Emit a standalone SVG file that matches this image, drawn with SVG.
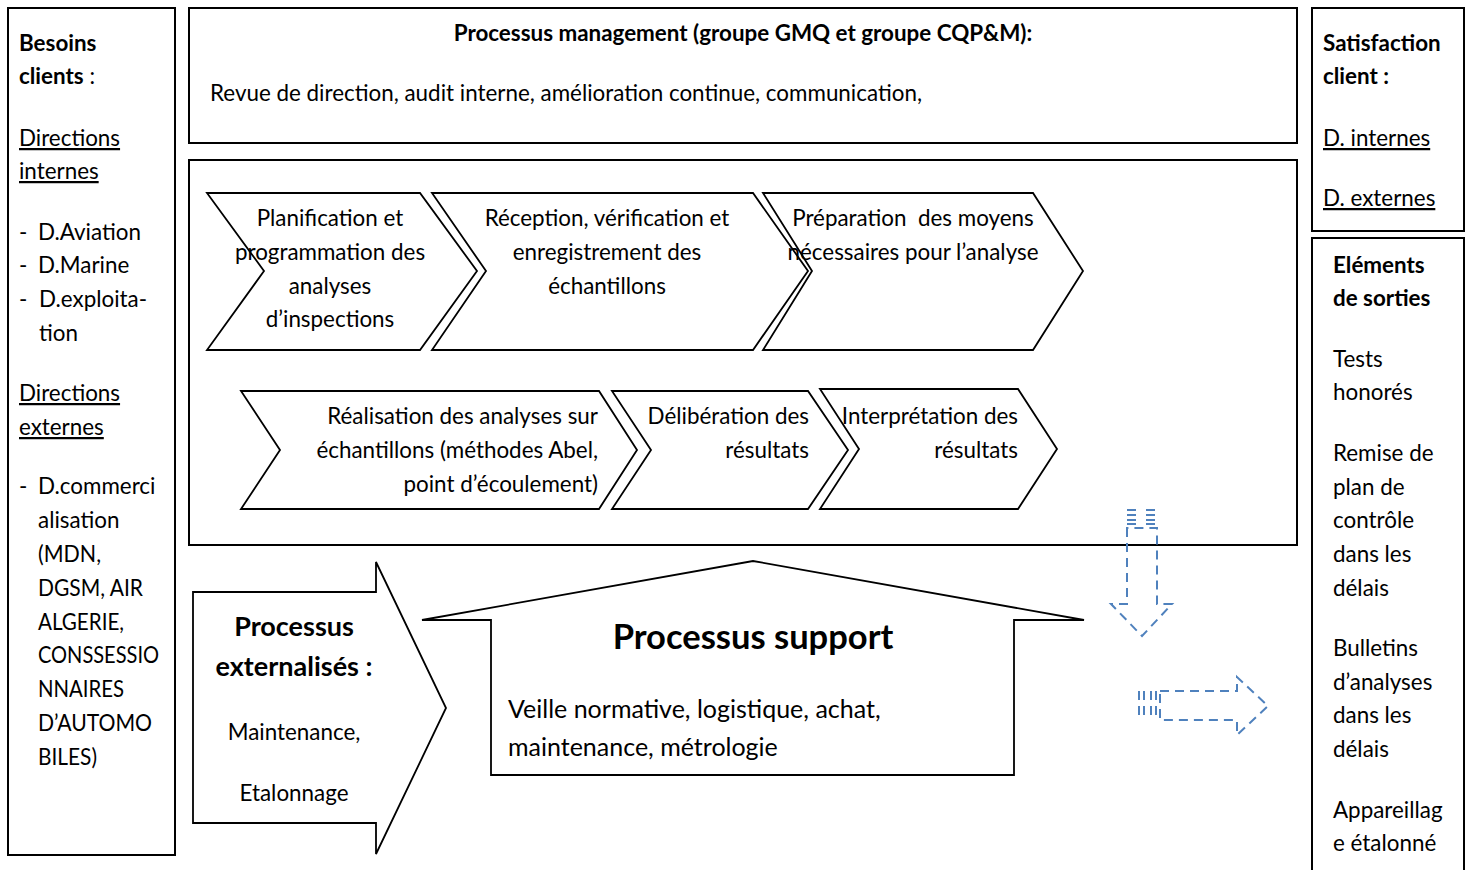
<svg xmlns="http://www.w3.org/2000/svg" width="1471" height="870" viewBox="0 0 1471 870">
  <style>
    .box { fill: #fff; stroke: #000; stroke-width: 2; }
    .shape { fill: #fff; stroke: #000; stroke-width: 1.8; stroke-linejoin: miter; }
    .t { font-family: Lato, "Liberation Sans", sans-serif; font-size: 22.4px; fill: #000; }
    .b { font-weight: bold; }
    .u { text-decoration: underline; }
    .c { text-anchor: middle; }
    .r { text-anchor: end; }
    .big { font-size: 27px; }
    .title { font-size: 34.5px; }
    .mid { font-size: 25px; }
    .dash { fill: none; stroke: #4f81bd; stroke-width: 2; stroke-dasharray: 9 6; }
  </style>
  <rect width="1471" height="870" fill="#fff"/>

  <!-- Client needs column -->
  <g id="besoins">
    <rect class="box" x="8" y="8" width="167" height="847"/>
    <text class="t b" x="19" y="51">Besoins</text>
    <text class="t" x="19" y="84"><tspan class="b">clients</tspan> :</text>
    <text class="t u" x="19" y="146">Directions</text>
    <text class="t u" x="19" y="179">internes</text>
    <text class="t" x="19" y="240">-</text><text class="t" x="38" y="240">D.Aviation</text>
    <text class="t" x="19" y="273">-</text><text class="t" x="38" y="273">D.Marine</text>
    <text class="t" x="19" y="307">-</text><text class="t" x="39" y="307">D.exploita-</text>
    <text class="t" x="39" y="341">tion</text>
    <text class="t u" x="19" y="401">Directions</text>
    <text class="t u" x="19" y="435">externes</text>
    <text class="t" x="19" y="494">-</text><text class="t" x="38" y="494">D.commerci</text>
    <text class="t" x="38" y="528">alisation</text>
    <text class="t" x="38" y="562" textLength="63" lengthAdjust="spacingAndGlyphs">(MDN,</text>
    <text class="t" x="38" y="596" textLength="105" lengthAdjust="spacingAndGlyphs">DGSM, AIR</text>
    <text class="t" x="38" y="630" textLength="86" lengthAdjust="spacingAndGlyphs">ALGERIE,</text>
    <text class="t" x="38" y="663" textLength="121" lengthAdjust="spacingAndGlyphs">CONSSESSIO</text>
    <text class="t" x="38" y="697" textLength="86" lengthAdjust="spacingAndGlyphs">NNAIRES</text>
    <text class="t" x="38" y="731" textLength="114" lengthAdjust="spacingAndGlyphs">D’AUTOMO</text>
    <text class="t" x="38" y="765" textLength="59" lengthAdjust="spacingAndGlyphs">BILES)</text>
  </g>

  <!-- Management process -->
  <g id="management">
    <rect class="box" x="189" y="8" width="1108" height="135"/>
    <text class="t b c" x="743" y="41">Processus management (groupe GMQ et groupe CQP&amp;M):</text>
    <text class="t" x="210" y="101">Revue de direction, audit interne, amélioration continue, communication,</text>
  </g>

  <!-- Realisation process frame -->
  <g id="realisation">
    <rect class="box" x="189" y="160" width="1108" height="385"/>
  </g>

  <g id="planification">
    <polygon class="shape" points="207,193 420,193 477,271 420,350 207,350 264,271"/>
    <text class="t c" x="330" y="226">Planification et</text>
    <text class="t c" x="330" y="260">programmation des</text>
    <text class="t c" x="330" y="294">analyses</text>
    <text class="t c" x="330" y="327">d’inspections</text>
  </g>
  <g id="reception">
    <polygon class="shape" points="432,193 753,193 808,271 753,350 432,350 486,271"/>
    <text class="t c" x="607" y="226">Réception, vérification et</text>
    <text class="t c" x="607" y="260">enregistrement des</text>
    <text class="t c" x="607" y="294">échantillons</text>
  </g>
  <g id="preparation">
    <polygon class="shape" points="763,193 1033,193 1083,271 1033,350 763,350 812,271"/>
    <text class="t c" x="913" y="226" xml:space="preserve">Préparation  des moyens</text>
    <text class="t c" x="913" y="260">nécessaires pour l’analyse</text>
  </g>
  <g id="analyses">
    <polygon class="shape" points="241,391 599,391 637,450 599,509 241,509 280,450"/>
    <text class="t r" x="598" y="424">Réalisation des analyses sur</text>
    <text class="t r" x="598" y="458">échantillons (méthodes Abel,</text>
    <text class="t r" x="598" y="492">point d’écoulement)</text>
  </g>
  <g id="deliberation">
    <polygon class="shape" points="612,391 808,391 848,450 808,509 612,509 651,450"/>
    <text class="t r" x="809" y="424">Délibération des</text>
    <text class="t r" x="809" y="458">résultats</text>
  </g>
  <g id="interpretation">
    <polygon class="shape" points="820,389 1018,389 1057,449 1018,509 820,509 859,449"/>
    <text class="t r" x="1018" y="424">Interprétation des</text>
    <text class="t r" x="1018" y="458">résultats</text>
  </g>

  <!-- Outsourced processes -->
  <g id="externalises">
    <polygon class="shape" points="193,592 376,592 376,562 446,708 376,854 376,823 193,823"/>
    <text class="t b c big" x="294" y="636">Processus</text>
    <text class="t b c big" x="294" y="676">externalisés :</text>
    <text class="t c" x="294" y="740">Maintenance,</text>
    <text class="t c" x="294" y="801">Etalonnage</text>
  </g>

  <!-- Support processes -->
  <g id="support">
    <polygon class="shape" points="491,775 491,620 422,620 753,561 1084,620 1014,620 1014,775"/>
    <text class="t b c title" x="753" y="649">Processus support</text>
    <text class="t mid" x="508" y="718">Veille normative, logistique, achat,</text>
    <text class="t mid" x="508" y="756">maintenance, métrologie</text>
  </g>

  <!-- Customer satisfaction -->
  <g id="satisfaction">
    <rect class="box" x="1312" y="8" width="152" height="223"/>
    <text class="t b" x="1323" y="51">Satisfaction</text>
    <text class="t b" x="1323" y="84">client :</text>
    <text class="t u" x="1323" y="146">D. internes</text>
    <text class="t u" x="1323" y="206">D. externes</text>
  </g>

  <!-- Outputs -->
  <g id="sorties">
    <rect class="box" x="1312" y="238" width="152" height="650"/>
    <text class="t b" x="1333" y="273">Eléments</text>
    <text class="t b" x="1333" y="306">de sorties</text>
    <text class="t" x="1333" y="367">Tests</text>
    <text class="t" x="1333" y="400">honorés</text>
    <text class="t" x="1333" y="461">Remise de</text>
    <text class="t" x="1333" y="495">plan de</text>
    <text class="t" x="1333" y="528">contrôle</text>
    <text class="t" x="1333" y="562">dans les</text>
    <text class="t" x="1333" y="596">délais</text>
    <text class="t" x="1333" y="656">Bulletins</text>
    <text class="t" x="1333" y="690">d’analyses</text>
    <text class="t" x="1333" y="723">dans les</text>
    <text class="t" x="1333" y="757">délais</text>
    <text class="t" x="1333" y="818">Appareillag</text>
    <text class="t" x="1333" y="851">e étalonné</text>
  </g>

  <!-- Dashed striped flow arrows -->
  <g id="connectors">
    <!-- downward arrow -->
    <path class="dash" d="M1127,528 L1127,604 L1111,604 L1142,636 L1172,604 L1157,604 L1157,528 Z"/>
    <path class="dash" stroke-dasharray="6 3" d="M1127,510 H1138 M1146,510 H1157 M1127,515 H1138 M1146,515 H1157 M1127,520 H1138 M1146,520 H1157 M1127,524 H1138 M1146,524 H1157"/>
    <!-- rightward arrow -->
    <path class="dash" d="M1160,691 L1237,691 L1237,677 L1268,706 L1237,735 L1237,720 L1160,720 Z"/>
    <path class="dash" stroke-dasharray="6 3" d="M1139,691 V720 M1144,691 V720 M1151,691 V720 M1156,691 V720"/>
  </g>
</svg>
